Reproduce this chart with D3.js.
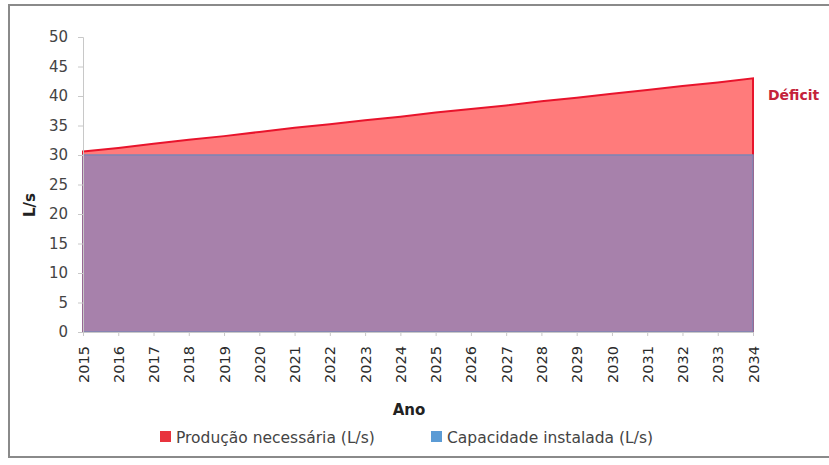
<!DOCTYPE html>
<html>
<head>
<meta charset="utf-8">
<script src="https://cdn.jsdelivr.net/npm/d3@7"></script>
<style>
  body { margin: 0; background: #fff; }
  svg { display: block; font-family: "DejaVu Sans", sans-serif; }
</style>
</head>
<body>
<svg id="chart" width="829" height="465"></svg>
<script>
const years = [2015, 2016, 2017, 2018, 2019, 2020, 2021, 2022, 2023, 2024,
               2025, 2026, 2027, 2028, 2029, 2030, 2031, 2032, 2033, 2034];
const producao = [30.6, 31.2, 31.9, 32.6, 33.2, 33.9, 34.6, 35.2, 35.9, 36.5,
                  37.2, 37.8, 38.4, 39.1, 39.7, 40.4, 41.0, 41.7, 42.3, 43.0];
const capacidade = [30, 30, 30, 30, 30, 30, 30, 30, 30, 30,
                    30, 30, 30, 30, 30, 30, 30, 30, 30, 30];
const yTicks = [0, 5, 10, 15, 20, 25, 30, 35, 40, 45, 50];
const seriesNames = ["Produção necessária (L/s)", "Capacidade instalada (L/s)"];

const svg = d3.select("#chart");

// outer frame
svg.append("rect")
    .attr("x", 9).attr("y", 5)
    .attr("width", 830).attr("height", 452)
    .attr("fill", "none").attr("stroke", "#8a8a8a").attr("stroke-width", 2);

let x = d3.scalePoint().domain(years).range([83, 753]);
let y = d3.scaleLinear().domain([0, 50]).range([332, 37]);

let data = years.map((yr, i) => ({yr, p: producao[i], c: capacidade[i]}));

let areaP = d3.area().x(d => x(d.yr)).y0(y(0)).y1(d => y(d.p));
let areaC = d3.area().x(d => x(d.yr)).y0(y(0)).y1(d => y(d.c));

svg.append("path").datum(data)
    .attr("d", areaP)
    .attr("fill", "#ff7b7b")
    .attr("stroke", "#e8142c").attr("stroke-width", 2);

svg.append("path").datum(data)
    .attr("d", areaC)
    .attr("fill", "#a781ab")
    .attr("stroke", "#7c85b5").attr("stroke-width", 1.5);

// y axis
let yAxis = svg.append("g")
    .attr("transform", "translate(83,0)")
    .call(d3.axisLeft(y).tickValues(yTicks).tickSize(5).tickPadding(10));
yAxis.select(".domain").attr("stroke", "#c8c8c8");
yAxis.selectAll(".tick line").attr("stroke", "#c8c8c8");
yAxis.selectAll("text")
    .attr("font-family", "DejaVu Sans").attr("font-size", 15).attr("fill", "#444");

// x axis
let xAxis = svg.append("g")
    .attr("transform", "translate(0,332)")
    .call(d3.axisBottom(x).tickSize(4).tickSizeOuter(0));
xAxis.select(".domain").attr("stroke", "#c8c8c8");
xAxis.selectAll(".tick line").attr("stroke", "#c8c8c8");
xAxis.selectAll("text")
    .attr("font-family", "DejaVu Sans").attr("font-size", 14.5).attr("fill", "#2a2a2a")
    .attr("transform", "rotate(-90)")
    .attr("text-anchor", "end")
    .attr("dy", "0.35em")
    .attr("x", -14).attr("y", 0);

svg.append("text")
    .attr("transform", "translate(35,205) rotate(-90)")
    .attr("text-anchor", "middle")
    .attr("font-size", 15).attr("font-weight", "bold").attr("fill", "#222")
    .text("L/s");

svg.append("text")
    .attr("x", 409).attr("y", 415)
    .attr("text-anchor", "middle")
    .attr("font-size", 15).attr("font-weight", "bold").attr("fill", "#222")
    .text("Ano");

svg.append("text")
    .attr("x", 768).attr("y", 100)
    .attr("font-size", 14).attr("font-weight", "bold").attr("fill", "#c4223a")
    .text("Déficit");

// legend
const legendColors = ["#e8343e", "#5b9bd5"];
const legendX = [160, 431];
seriesNames.forEach((name, i) => {
    svg.append("rect")
        .attr("x", legendX[i]).attr("y", 431)
        .attr("width", 11).attr("height", 11)
        .attr("fill", legendColors[i]);
    svg.append("text")
        .attr("x", legendX[i] + 16).attr("y", 443)
        .attr("font-size", 15.5).attr("fill", "#444")
        .text(name);
});
</script>
</body>
</html>
